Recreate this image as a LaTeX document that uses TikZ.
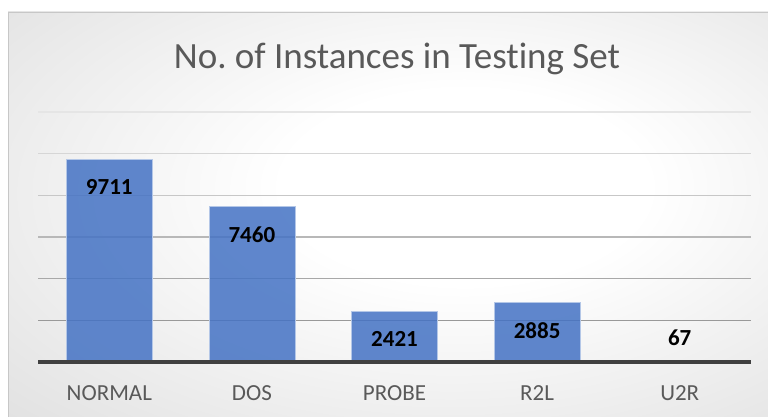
\documentclass[tikz,border=0pt]{standalone}
\usepackage{fontspec}
\setmainfont{Carlito}[Ligatures=NoCommon]
\frenchspacing
\usetikzlibrary{positioning}
\definecolor{barblue}{RGB}{68,114,196}
\definecolor{textgray}{RGB}{89,89,89}
\pgfdeclareradialshading{chartglow}{\pgfpoint{6bp}{4bp}}{%
  color(0bp)=(white); color(12bp)=(white); color(50bp)=(black!16); color(80bp)=(black!24)}
\tikzset{
	chartarea/.style={shading=chartglow,draw=black!22,line width=0.8pt},
	gridline/.style={line width=1.3pt},
	baseline axis/.style={draw=black!75,line width=3.2pt},
	bar/.style={fill=barblue,fill opacity=0.85,draw=barblue!40!white,line width=0.4pt},
	title/.style={text=textgray,font=\fontsize{37}{41}\selectfont},
	catlabel/.style={text=textgray,font=\fontsize{23}{27}\selectfont},
	vallabel/.style={text=black,font=\bfseries\fontsize{23}{27}\selectfont}
}
\begin{document}
\begin{tikzpicture}[x=1pt,y=-1pt]
	\useasboundingbox (0,0) rectangle (768,417);
	\path[chartarea] (8,12) rectangle (768,417);
	\node[title] (title) at (397,59) {No. of Instances in Testing Set};
	% gridlines every 2000, darker towards the axis
	\foreach \k in {1,...,6} {
		\pgfmathsetmacro{\shade}{46-6*\k}
		\draw[gridline,black!\shade] (38,{362-41.67*\k}) -- (751,{362-41.67*\k});
	}
	% bars, value labels and categories
	\foreach \cat/\val/\ly [count=\i from 0] in {NORMAL/9711/187,DOS/7460/234.5,PROBE/2421/339,R2L/2885/331,U2R/67/338} {
		\pgfmathsetmacro{\cx}{38+142.6*(\i+0.5)}
		\pgfmathsetmacro{\bartop}{362-\val/2000*41.67}
		\path[bar] (\cx-43,362) rectangle (\cx+43,\bartop);
		\node[vallabel] (val\i) at (\cx,\ly) {\val};
		\node[catlabel] (cat\i) at (\cx,393.5) {\cat};
	}
	\coordinate (axl) at (38,362);
	\coordinate (axr) at (751,362);
	\draw[baseline axis] (axl) -- (axr);
\end{tikzpicture}
\end{document}
